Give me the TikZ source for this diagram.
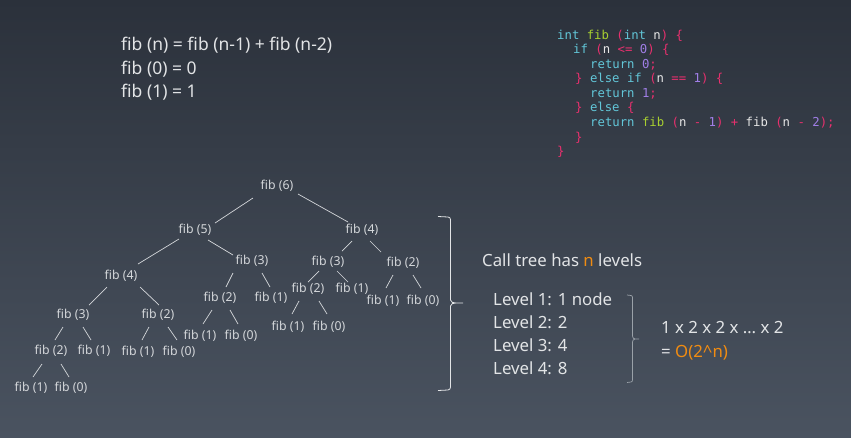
\documentclass[tikz,border=0pt]{standalone}
\usepackage{fontspec}
\setmainfont{Noto Sans}
\setmonofont{DejaVu Sans Mono}
\usetikzlibrary{calc}
\definecolor{bgtop}{HTML}{2B313B}
\definecolor{bgbot}{HTML}{4A5360}
\definecolor{txt}{HTML}{E2E4E6}
\definecolor{treetxt}{HTML}{D4D7DA}
\definecolor{orng}{HTML}{F08C12}
\definecolor{ccyan}{HTML}{62C6D8}
\definecolor{cgreen}{HTML}{A8D030}
\definecolor{cpink}{HTML}{E8306E}
\definecolor{cpurp}{HTML}{A07EE6}
\definecolor{cwhite}{HTML}{E6E6E6}
\definecolor{brc}{HTML}{9AA1A8}
\tikzset{
  fibnode/.style={text=treetxt, font=\fontsize{12.3}{14}\selectfont, inner sep=0pt},
  edge/.style={draw=treetxt, line width=0.7pt},
  bigtxt/.style={text=txt, font=\fontsize{17.5}{20}\selectfont, inner sep=0pt, anchor=west},
  rtxt/.style={text=txt, font=\fontsize{16.8}{19}\selectfont, inner sep=0pt, anchor=west},
  codeline/.style={font=\ttfamily\fontsize{12.3}{14}\selectfont, inner sep=0pt, anchor=west},
}
\newcommand{\kw}[1]{\textcolor{ccyan}{#1}}
\newcommand{\fn}[1]{\textcolor{cgreen}{#1}}
\newcommand{\pk}[1]{\textcolor{cpink}{#1}}
\newcommand{\nm}[1]{\textcolor{cpurp}{#1}}
\newcommand{\wt}[1]{\textcolor{cwhite}{#1}}
\begin{document}
\begin{tikzpicture}[x=1pt,y=-1pt]
\shade[top color=bgtop, bottom color=bgbot] (0,0) rectangle (851,437);
\useasboundingbox (0,0) rectangle (851,437);

% formulas
\node[bigtxt] (f1) at (121,45) {fib (n) = fib (n-1) + fib (n-2)};
\node[bigtxt] (f2) at (121,69) {fib (0) = 0};
\node[bigtxt] (f3) at (121,92) {fib (1) = 1};

% code
\node[codeline] (c1) at (557,36) {\kw{int} \fn{fib} \pk{(}\kw{int} \wt{n}\pk{)} \pk{\{}};
\node[codeline] (c2) at (573,50) {\kw{if} \pk{(}\wt{n} \pk{<=} \nm{0}\pk{)} \pk{\{}};
\node[codeline] (c3) at (590,65) {\kw{return} \nm{0}\pk{;}};
\node[codeline] (c4) at (575,79) {\pk{\}} \kw{else if} \pk{(}\wt{n} \pk{==} \nm{1}\pk{)} \pk{\{}};
\node[codeline] (c5) at (590,94) {\kw{return} \nm{1}\pk{;}};
\node[codeline] (c6) at (575,108) {\pk{\}} \kw{else} \pk{\{}};
\node[codeline] (c7) at (590,123) {\kw{return} \fn{fib} \pk{(}\wt{n} \pk{-} \nm{1}\pk{)} \pk{+} \wt{fib} \pk{(}\wt{n} \pk{-} \nm{2}\pk{)}\pk{;}};
\node[codeline] (c8) at (575,138) {\pk{\}}};
\node[codeline] (c9) at (557,152) {\pk{\}}};

% tree nodes
\node[fibnode] (n6) at (277,186) {fib (6)};
\node[fibnode] (n5) at (195,230) {fib (5)};
\node[fibnode] (n4r) at (362,230) {fib (4)};
\node[fibnode] (n4l) at (121,276) {fib (4)};
\node[fibnode] (n3a) at (252,261) {fib (3)};
\node[fibnode] (n3b) at (328,262) {fib (3)};
\node[fibnode] (n2a) at (403,263) {fib (2)};
\node[fibnode] (n3c) at (73,315) {fib (3)};
\node[fibnode] (n2b) at (158,315) {fib (2)};
\node[fibnode] (n2c) at (51,351) {fib (2)};
\node[fibnode] (n1a) at (94,351) {fib (1)};
\node[fibnode] (n1b) at (138,352) {fib (1)};
\node[fibnode] (n0b) at (179,352) {fib (0)};
\node[fibnode] (n1c) at (31,388) {fib (1)};
\node[fibnode] (n0c) at (71,388) {fib (0)};
\node[fibnode] (n2d) at (220,298) {fib (2)};
\node[fibnode] (n1d) at (271,298) {fib (1)};
\node[fibnode] (n1e) at (200,336) {fib (1)};
\node[fibnode] (n0e) at (241,336) {fib (0)};
\node[fibnode] (n2f) at (308,289) {fib (2)};
\node[fibnode] (n1f) at (352,289) {fib (1)};
\node[fibnode] (n1g) at (288,327) {fib (1)};
\node[fibnode] (n0g) at (329,327) {fib (0)};
\node[fibnode] (n1h) at (383,301) {fib (1)};
\node[fibnode] (n0h) at (423,301) {fib (0)};

% tree edges
\draw[edge] ($(n6)+(-24,12)$) -- ($(n5)+(20,-7)$);
\draw[edge] ($(n6)+(21,8)$) -- ($(n4r)+(-14,-8)$);
\draw[edge] ($(n5)+(-16,9)$) -- ($(n4l)+(17,-12)$);
\draw[edge] ($(n5)+(13,10)$) -- ($(n3a)+(-19,-6)$);
\draw[edge] ($(n4r)+(-10,11)$) -- ($(n3b)+(14,-11)$);
\draw[edge] ($(n4r)+(8,11)$) -- ($(n2a)+(-22,-11)$);
\draw[edge] ($(n4l)+(-14,11)$) -- ($(n3c)+(16,-10)$);
\draw[edge] ($(n4l)+(19,11)$) -- ($(n2b)+(1,-10)$);
\draw[edge] ($(n3c)+(-10,12)$) -- ($(n2c)+(4,-11)$);
\draw[edge] ($(n3c)+(10,12)$) -- ($(n1a)+(-3,-11)$);
\draw[edge] ($(n2c)+(-9,13)$) -- ($(n1c)+(2,-11)$);
\draw[edge] ($(n2c)+(10,13)$) -- ($(n0c)+(-2,-11)$);
\draw[edge] ($(n2b)+(-9,12)$) -- ($(n1b)+(4,-12)$);
\draw[edge] ($(n2b)+(10,12)$) -- ($(n0b)+(-2,-12)$);
\draw[edge] ($(n3a)+(-19,12)$) -- ($(n2d)+(6,-11)$);
\draw[edge] ($(n3a)+(10,12)$) -- ($(n1d)+(-1,-11)$);
\draw[edge] ($(n2d)+(-8,12)$) -- ($(n1e)+(3,-12)$);
\draw[edge] ($(n2d)+(10,12)$) -- ($(n0e)+(-3,-12)$);
\draw[edge] ($(n3b)+(-9,9)$) -- ($(n2f)+(0,-7)$);
\draw[edge] ($(n3b)+(9,9)$) -- ($(n1f)+(-4,-7)$);
\draw[edge] ($(n2f)+(-9,12)$) -- ($(n1g)+(4,-13)$);
\draw[edge] ($(n2f)+(11,12)$) -- ($(n0g)+(-2,-13)$);
\draw[edge] ($(n2a)+(-10,12)$) -- ($(n1h)+(3,-13)$);
\draw[edge] ($(n2a)+(10,12)$) -- ($(n0h)+(-2,-13)$);

% big brace
\draw[draw=txt, line width=0.8pt, line join=round]
  (438,216.5) -- (448,217) to[out=0,in=90] (450.5,219.5) -- (450.5,300)
  to[out=-90,in=180] (456,303) -- (463,303)
  (456,303) to[out=180,in=90] (450.5,306) -- (450.5,387)
  to[out=-90,in=0] (448,390) -- (438,390.5);

% right texts
\node[rtxt] (call) at (482,260) {Call tree has \textcolor{orng}{n} levels};
\node[rtxt] (l1) at (493,299) {Level 1: 1 node};
\node[rtxt] (l2) at (493,322) {Level 2: 2};
\node[rtxt] (l3) at (493,345) {Level 3: 4};
\node[rtxt] (l4) at (493,368) {Level 4: 8};

% small brace
\draw[draw=brc, line width=0.7pt, line join=round]
  (627,295) -- (631,295.5) to[out=0,in=90] (632.5,297.5) -- (632.5,336)
  to[out=-90,in=180] (635,339) -- (639,339)
  (635,339) to[out=180,in=90] (632.5,342) -- (632.5,380)
  to[out=-90,in=0] (631,382) -- (627,382.5);

\node[rtxt] (prod) at (661,328) {1 x 2 x 2 x \dots{} x 2};
\node[rtxt] (res) at (661,353) {= \textcolor{orng}{O(2\^{}n)}};
\end{tikzpicture}
\end{document}
